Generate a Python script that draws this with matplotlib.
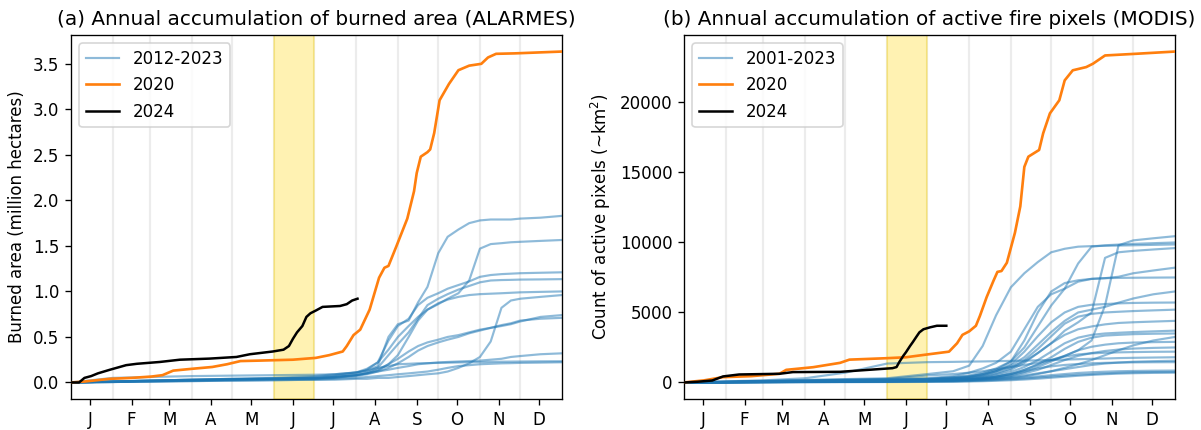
import matplotlib
matplotlib.use("Agg")
import matplotlib.pyplot as plt
import numpy as np

# ---------------- data ----------------
month_labels = ["J", "F", "M", "A", "M", "J", "J", "A", "S", "O", "N", "D"]
month_starts = [31, 59, 90, 120, 151, 181, 212, 243, 273, 304, 334]
month_mids = [14, 45, 73, 104, 134, 165, 195, 226, 257, 287, 318, 348]
june_span = (151, 181)

# (a) ALARMES burned area, million hectares
days_a = [0, 31, 59, 90, 120, 151, 181, 196, 212, 220, 228, 236, 243, 251, 258,
          265, 273, 280, 288, 296, 304, 312, 320, 327, 334, 349, 365]
a_curve_A = [0, 0.01, 0.02, 0.03, 0.04, 0.05, 0.07, 0.09, 0.11, 0.13, 0.18, 0.5, 0.64, 0.68, 0.88,
             1.05, 1.42, 1.6, 1.68, 1.75, 1.78, 1.79, 1.79, 1.79, 1.8, 1.81, 1.83]
a_curve_B = [0, 0.01, 0.02, 0.025, 0.03, 0.04, 0.06, 0.08, 0.11, 0.15, 0.22, 0.36, 0.5, 0.62, 0.72,
             0.8, 0.86, 0.92, 0.98, 1.12, 1.47, 1.52, 1.53, 1.54, 1.545, 1.555, 1.565]
a_curve_C = [0, 0.005, 0.015, 0.025, 0.035, 0.045, 0.05, 0.07, 0.1, 0.14, 0.22, 0.46, 0.62, 0.7, 0.85,
             0.93, 0.98, 1.03, 1.07, 1.11, 1.16, 1.18, 1.19, 1.195, 1.2, 1.205, 1.21]
a_curve_D = [0, 0.005, 0.01, 0.02, 0.03, 0.035, 0.04, 0.06, 0.08, 0.11, 0.16, 0.3, 0.42, 0.55, 0.7,
             0.85, 0.92, 0.97, 1.02, 1.06, 1.1, 1.12, 1.125, 1.127, 1.13, 1.132, 1.135]
a_curve_E = [0, 0.01, 0.02, 0.03, 0.035, 0.04, 0.045, 0.06, 0.08, 0.1, 0.13, 0.2, 0.3, 0.5, 0.68,
             0.8, 0.87, 0.91, 0.94, 0.96, 0.97, 0.975, 0.98, 0.985, 0.99, 0.995, 1.0]
a_curve_F = [0, 0.005, 0.01, 0.015, 0.02, 0.025, 0.03, 0.03, 0.04, 0.04, 0.05, 0.05, 0.06, 0.07, 0.08,
             0.09, 0.1, 0.12, 0.16, 0.21, 0.28, 0.45, 0.82, 0.9, 0.92, 0.94, 0.96]
a_curve_G = [0, 0.01, 0.02, 0.03, 0.04, 0.045, 0.05, 0.06, 0.08, 0.1, 0.14, 0.2, 0.26, 0.34, 0.4,
             0.44, 0.47, 0.5, 0.52, 0.55, 0.58, 0.6, 0.62, 0.64, 0.67, 0.72, 0.74]
a_curve_H = [0, 0.01, 0.015, 0.02, 0.03, 0.035, 0.04, 0.05, 0.07, 0.09, 0.12, 0.16, 0.21, 0.28, 0.35,
             0.4, 0.44, 0.47, 0.5, 0.54, 0.57, 0.6, 0.63, 0.65, 0.68, 0.7, 0.71]
a_curve_I = [0, 0.01, 0.02, 0.03, 0.035, 0.04, 0.045, 0.05, 0.08, 0.1, 0.12, 0.14, 0.16, 0.18, 0.2,
             0.21, 0.22, 0.225, 0.23, 0.235, 0.24, 0.25, 0.26, 0.28, 0.29, 0.31, 0.32]
a_curve_J = [0, 0.05, 0.06, 0.07, 0.075, 0.08, 0.085, 0.09, 0.11, 0.13, 0.16, 0.18, 0.2, 0.205, 0.21,
             0.212, 0.215, 0.217, 0.22, 0.222, 0.224, 0.226, 0.228, 0.229, 0.23, 0.232, 0.233]
a_curve_K = [0, 0.005, 0.01, 0.015, 0.02, 0.025, 0.03, 0.04, 0.05, 0.06, 0.07, 0.08, 0.09, 0.1, 0.11,
             0.12, 0.14, 0.16, 0.18, 0.19, 0.2, 0.205, 0.21, 0.212, 0.215, 0.218, 0.222]
a_hist = [a_curve_A, a_curve_B, a_curve_C, a_curve_D, a_curve_E, a_curve_F,
          a_curve_G, a_curve_H, a_curve_I, a_curve_J, a_curve_K]

a2020_days = [0, 10, 29, 45, 60, 68, 76, 90, 105, 116, 126, 140, 165, 182, 192, 197, 202, 205,
              210, 215, 222, 229, 233, 236, 242, 246, 250, 252, 255, 257, 260, 265, 267, 270,
              274, 281, 288, 296, 305, 310, 316, 330, 365]
a2020_vals = [0, 0.01, 0.04, 0.05, 0.065, 0.08, 0.13, 0.15, 0.17, 0.2, 0.235, 0.24, 0.25, 0.27,
              0.3, 0.32, 0.34, 0.4, 0.52, 0.58, 0.8, 1.15, 1.26, 1.28, 1.5, 1.65, 1.8, 1.92, 2.1,
              2.3, 2.48, 2.53, 2.56, 2.74, 3.1, 3.28, 3.43, 3.48, 3.5, 3.57, 3.61, 3.615, 3.635]

a2024_days = [0, 6, 10, 15, 20, 29, 41, 49, 66, 81, 103, 123, 133, 150, 158, 162, 165, 168,
              172, 175, 178, 182, 187, 200, 205, 209, 213]
a2024_vals = [0, 0.0, 0.05, 0.07, 0.1, 0.14, 0.19, 0.205, 0.225, 0.25, 0.262, 0.28, 0.31, 0.34,
              0.36, 0.4, 0.48, 0.55, 0.62, 0.72, 0.76, 0.79, 0.83, 0.84, 0.86, 0.9, 0.92]

# (b) MODIS active fire pixels
days_b = [0, 31, 59, 90, 120, 151, 181, 200, 212, 222, 232, 243, 253, 263, 273, 283, 293,
          303, 313, 323, 334, 349, 365]
b_r01 = [0, 60, 120, 180, 240, 300, 600, 800, 1200, 2600, 4800, 6800, 7800, 8600, 9300, 9550,
         9700, 9740, 9760, 9780, 9800, 9830, 9860]
b_r02 = [0, 50, 100, 150, 200, 250, 500, 600, 700, 800, 950, 1100, 1250, 1400, 1600, 1900, 2300,
         3000, 5500, 9800, 10150, 10300, 10450]
b_r03 = [0, 40, 90, 140, 190, 240, 300, 450, 700, 1000, 1400, 2200, 3800, 5400, 6300, 6700,
         8500, 9700, 9800, 9850, 9900, 9950, 10000]
b_r04 = [0, 30, 70, 110, 150, 200, 250, 350, 450, 600, 800, 1100, 1500, 2100, 2800, 3700, 4300,
         5000, 8900, 9300, 9400, 9500, 9600]
b_r05 = [0, 40, 80, 120, 160, 200, 260, 380, 500, 700, 1000, 1500, 3000, 5000, 6500, 7100, 7300,
         7400, 7450, 7550, 7800, 8000, 8200]
b_r06 = [0, 30, 60, 90, 120, 160, 200, 300, 400, 600, 900, 1500, 2500, 4000, 5500, 6700, 7200,
         7400, 7450, 7470, 7480, 7490, 7500]
b_r07 = [0, 30, 60, 90, 130, 170, 220, 300, 400, 550, 800, 1200, 1800, 2700, 3600, 4400, 5000,
         5200, 5400, 5700, 6000, 6300, 6500]
b_r08 = [0, 30, 60, 90, 120, 150, 200, 280, 350, 500, 800, 1300, 2200, 3300, 4300, 5000, 5400,
         5550, 5600, 5650, 5680, 5700, 5710]
b_r09 = [0, 20, 50, 80, 110, 140, 180, 250, 320, 450, 650, 1000, 1600, 2400, 3300, 4200, 4700,
         4900, 5000, 5050, 5100, 5150, 5200]
b_r10 = [0, 20, 40, 70, 100, 130, 170, 230, 300, 400, 600, 900, 1400, 2100, 2800, 3400, 3800,
         4000, 4150, 4250, 4300, 4350, 4400]
b_r11 = [0, 20, 40, 60, 90, 120, 150, 200, 260, 350, 500, 750, 1100, 1600, 2200, 2800, 3200,
         3400, 3500, 3550, 3600, 3650, 3700]
b_r12 = [0, 20, 40, 60, 80, 100, 130, 180, 230, 300, 420, 600, 900, 1300, 1800, 2400, 2900,
         3200, 3350, 3400, 3450, 3480, 3500]
b_r13 = [0, 10, 20, 40, 60, 80, 100, 130, 160, 200, 250, 330, 430, 600, 800, 1050, 1300, 1600,
         1950, 2300, 2650, 3000, 3250]
b_r14 = [0, 15, 30, 50, 70, 90, 120, 160, 200, 260, 350, 500, 750, 1100, 1500, 1900, 2300, 2550,
         2700, 2800, 2850, 2880, 2900]
b_r15 = [0, 10, 25, 40, 60, 80, 110, 150, 190, 240, 320, 450, 650, 900, 1250, 1600, 1900, 2100,
         2250, 2350, 2420, 2470, 2500]
b_r16 = [0, 15, 30, 45, 60, 80, 110, 150, 200, 280, 400, 600, 900, 1250, 1600, 1850, 2000, 2080,
         2120, 2150, 2170, 2190, 2200]
b_r17 = [0, 80, 150, 300, 700, 1350, 1450, 1470, 1490, 1500, 1520, 1540, 1560, 1580, 1600, 1630,
         1660, 1690, 1710, 1740, 1760, 1780, 1800]
b_r18 = [0, 15, 30, 45, 60, 80, 100, 130, 170, 220, 290, 380, 500, 650, 800, 950, 1100, 1250,
         1350, 1420, 1480, 1520, 1550]
b_r19 = [0, 20, 40, 60, 80, 100, 130, 170, 220, 300, 420, 600, 800, 1000, 1150, 1250, 1320,
         1370, 1400, 1420, 1435, 1445, 1450]
b_r20 = [0, 10, 20, 30, 40, 50, 70, 90, 120, 160, 210, 280, 350, 430, 520, 600, 680, 730, 770,
         800, 820, 840, 850]
b_r21 = [0, 10, 20, 30, 40, 50, 60, 80, 100, 130, 170, 220, 280, 350, 420, 490, 550, 600, 650,
         690, 720, 740, 750]
b_r22 = [0, 5, 10, 15, 20, 30, 40, 50, 70, 90, 120, 160, 210, 270, 340, 410, 480, 540, 590,
         630, 660, 685, 700]
b_hist = [b_r01, b_r02, b_r03, b_r04, b_r05, b_r06, b_r07, b_r08, b_r09, b_r10, b_r11,
          b_r12, b_r13, b_r14, b_r15, b_r16, b_r17, b_r18, b_r19, b_r20, b_r21, b_r22]

b2020_days = [0, 15, 29, 50, 71, 76, 96, 116, 123, 150, 165, 180, 197, 203, 207, 212, 217,
              220, 225, 230, 233, 236, 240, 246, 250, 253, 256, 264, 267, 272, 279, 283, 289,
              299, 304, 313, 336, 365]
b2020_vals = [0, 150, 380, 450, 620, 900, 1090, 1400, 1630, 1730, 1800, 1990, 2200, 2800, 3400,
              3650, 4050, 4760, 6100, 7250, 7900, 7960, 8550, 10690, 12580, 15400, 16130,
              16610, 17800, 19220, 20160, 21580, 22300, 22530, 22770, 23360, 23480, 23640]

b2024_days = [0, 10, 21, 29, 41, 71, 81, 116, 131, 155, 158, 160, 163, 165, 168, 170, 173, 175,
              178, 183, 188, 195]
b2024_vals = [0, 50, 140, 430, 570, 620, 740, 760, 860, 1020, 1100, 1450, 1900, 2160, 2600,
              2870, 3300, 3580, 3800, 3940, 4050, 4050]

# ---------------- plot ----------------
DPI = 120
fig = plt.figure(figsize=(1201 / DPI, 430 / DPI), dpi=DPI)
ax1 = fig.add_axes([71 / 1201, 31 / 430, 491 / 1201, 364 / 430])
ax2 = fig.add_axes([684 / 1201, 31 / 430, 491 / 1201, 364 / 430])

blue = "#1f77b4"
orange = "#ff7f0e"


def draw(ax, days, hist, lab_hist, d20, v20, d24, v24, title, ylabel):
    for m in month_starts:
        ax.axvline(m, color="gray", alpha=0.15, lw=1.3, zorder=0)
    ax.axvspan(june_span[0], june_span[1], color="gold", alpha=0.3, zorder=0.5)
    for i, h in enumerate(hist):
        ax.plot(days, h, color=blue, alpha=0.5, lw=1.3,
                label=lab_hist if i == 0 else None, zorder=2)
    ax.plot(d20, v20, color=orange, lw=1.6, label="2020", zorder=3)
    ax.plot(d24, v24, color="black", lw=1.5, label="2024", zorder=4)
    ax.set_xlim(0, 365)
    ax.set_xticks(month_mids)
    ax.set_xticklabels(month_labels)
    ax.set_title(title, fontsize=12)
    ax.set_ylabel(ylabel)
    ax.legend(loc="upper left")


draw(ax1, days_a, a_hist, "2012-2023", a2020_days, a2020_vals, a2024_days, a2024_vals,
     "(a) Annual accumulation of burned area (ALARMES)", "Burned area (million hectares)")
draw(ax2, days_b, b_hist, "2001-2023", b2020_days, b2020_vals, b2024_days, b2024_vals,
     "(b) Annual accumulation of active fire pixels (MODIS)", "Count of active pixels (~km$^2$)")

fig.savefig("out.png", dpi=DPI)
